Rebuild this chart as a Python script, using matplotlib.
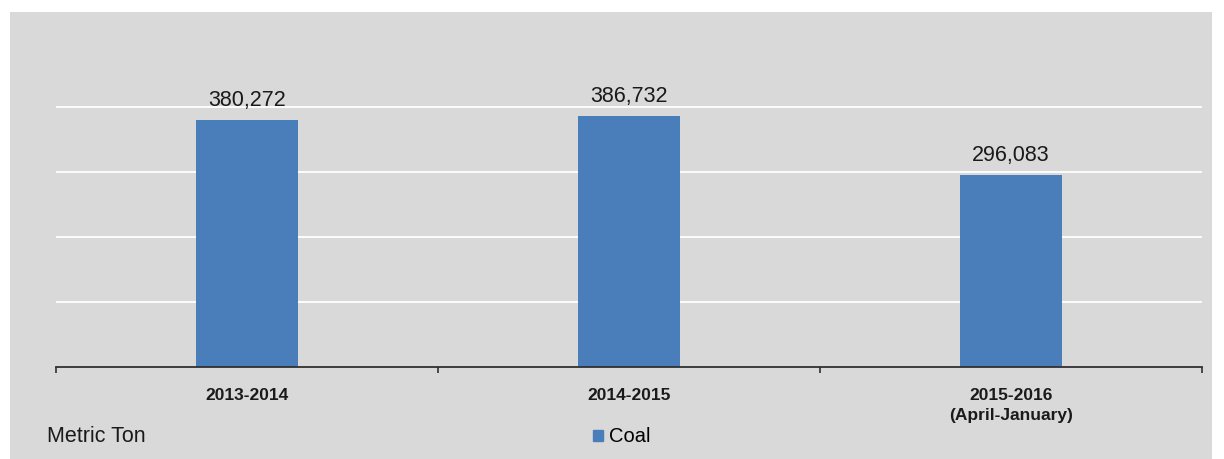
import matplotlib.pyplot as plt
import matplotlib.patches as mpatches

categories = ["2013-2014", "2014-2015", "2015-2016\n(April-January)"]
coal = [380272, 386732, 296083]
unit_label = "Metric Ton"
series_name = "Coal"

plt.rcParams['font.family'] = ['Liberation Sans', 'DejaVu Sans']

bar_color = "#4a7ebb"
bg = "#d9d9d9"

fig = plt.figure(figsize=(12.24, 4.59), dpi=100)
fig.patch.set_facecolor("white")
# gray chart area
fig.patches.append(mpatches.Rectangle((10 / 1224, 0), 1202 / 1224, 447 / 459,
                                      transform=fig.transFigure, facecolor=bg,
                                      edgecolor="none", zorder=-10))

ax = fig.add_axes([56 / 1224, 92 / 459, 1146 / 1224, 292.5 / 459])
ax.set_facecolor("none")

x = list(range(len(categories)))
ax.bar(x, coal, width=0.265, color=bar_color, zorder=3)
ax.set_xlim(-0.5, len(categories) - 0.5)
ax.set_ylim(0, 450000)

for xi, v in zip(x, coal):
    ax.text(xi, v + 13000, f"{v:,}", ha="center", va="bottom", fontsize=15.5,
            color="#1a1a1a", zorder=4)

# gridlines
ax.set_yticks([100000, 200000, 300000, 400000])
ax.yaxis.grid(True, color="white", linewidth=1.3, zorder=1)
ax.tick_params(axis="y", left=False, labelleft=False)

ax.set_xticks([-0.5, 0.5, 1.5, 2.5])
ax.set_xticklabels([])
ax.set_xticks(x, minor=True)
ax.set_xticklabels(categories, minor=True, fontsize=12.5, fontweight="bold",
                   color="#1a1a1a", linespacing=1.45)
ax.tick_params(axis="x", which="major", direction="out", length=4, width=1.2,
               color="#303030")
ax.tick_params(axis="x", which="minor", length=0, pad=15)
for lbl in ax.get_xticklabels(minor=True):
    lbl.set_va("top")

for s in ["top", "right", "left"]:
    ax.spines[s].set_visible(False)
ax.spines["bottom"].set_color("#303030")
ax.spines["bottom"].set_linewidth(1.3)
ax.spines["bottom"].set_zorder(5)

fig.text(47 / 1224, 22 / 459, unit_label, fontsize=15.5, va="center", ha="left",
         color="#1a1a1a")

handle = mpatches.Patch(color=bar_color, label=series_name)
fig.legend(handles=[handle], loc="center", bbox_to_anchor=(622 / 1224, 22 / 459),
           frameon=False, fontsize=14.5, handlelength=0.5, handleheight=0.5,
           handletextpad=0.3)

fig.savefig("out.png", dpi=100, facecolor=fig.get_facecolor())
